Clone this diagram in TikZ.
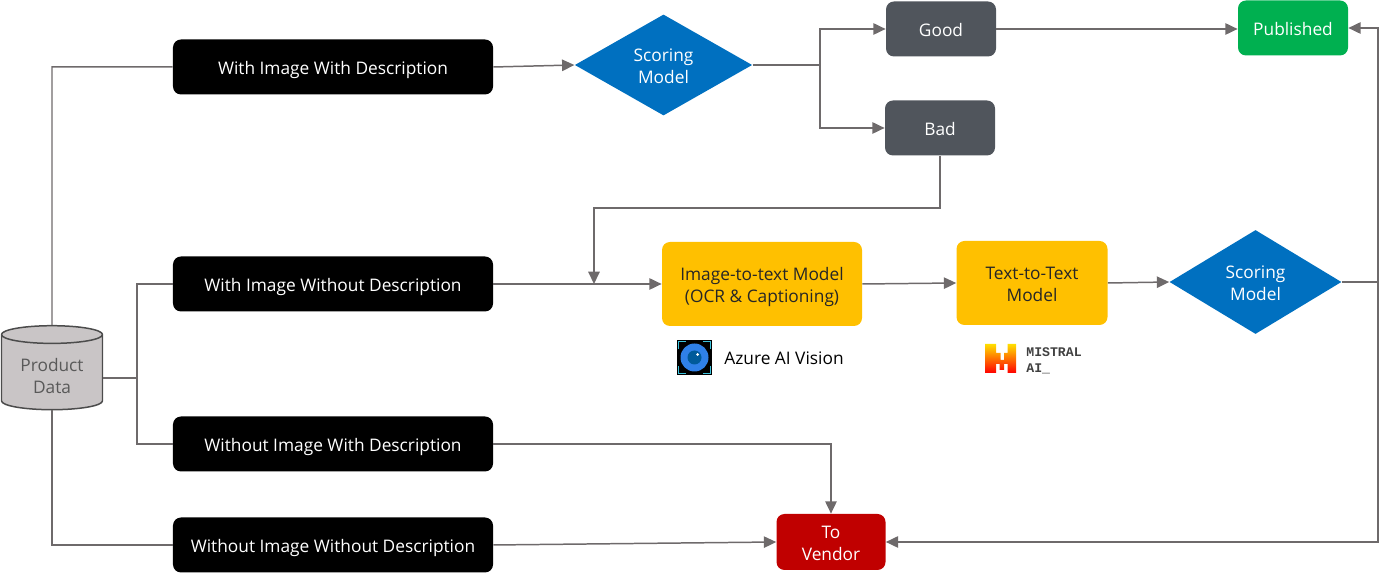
\documentclass[tikz,border=0pt]{standalone}
\usepackage{fontspec}
\setmainfont{Open Sans}
\newfontfamily\monolabel{Liberation Mono}
\usetikzlibrary{arrows.meta,shapes.geometric}
\definecolor{linegray}{HTML}{6E6A6B}
\definecolor{boxgray}{HTML}{50555C}
\definecolor{cylgray}{HTML}{C9C5C6}
\definecolor{modelblue}{HTML}{0070C0}
\definecolor{modelyellow}{HTML}{FFC000}
\definecolor{pubgreen}{HTML}{00B050}
\definecolor{vendorred}{HTML}{C00000}
\definecolor{lenscyan}{HTML}{3CC3DC}
\definecolor{lensblue}{HTML}{2F80E8}
\begin{document}
\begin{tikzpicture}[scale=0.2]
\tikzstyle{every node}+=[inner sep=0pt,font=\fontsize{9.85}{12.5}\selectfont,align=center]
\tikzstyle{oneline}=[text height=8pt,text depth=0pt]
\tikzstyle{twoline}=[text height=20.5pt,text depth=0pt]
\tikzstyle{box}=[rectangle,rounded corners=0.16cm,text=white]
\tikzstyle{casebox}=[box,oneline,fill=black,minimum width=6.4cm,minimum height=1.1cm]
\tikzstyle{gradebox}=[box,oneline,fill=boxgray,minimum width=2.2cm,minimum height=1.1cm]
\tikzstyle{modelbox}=[box,twoline,fill=modelyellow,text=black!85,minimum height=1.68cm]
\tikzstyle{scorebox}=[diamond,twoline,fill=modelblue,text=white,minimum width=3.55cm,minimum height=2.02cm]
\tikzstyle{line}=[draw=linegray,line width=0.85pt]
\tikzstyle{arrow}=[line,-{Triangle[length=7pt,width=6.5pt]}]
\useasboundingbox (0,0) rectangle (138.4,-58);
% product data
\node [cylinder,text height=24pt,text depth=0pt,shape border rotate=90,shape aspect=0.28,draw=black!70,line width=0.85pt,fill=cylgray,text=black!65,minimum width=2.02cm,minimum height=1.68cm] (db) at (5.2,-37.25) {Product\\Data};
% cases
\node [casebox] (wiwd) at (33.3,-6.7) {With Image With Description};
\node [casebox] (wiwod) at (33.3,-28.4) {With Image Without Description};
\node [casebox] (woiwd) at (33.3,-44.4) {Without Image With Description};
\node [casebox] (wowod) at (33.3,-54.5) {Without Image Without Description};
% models
\node [scorebox] (score1) at (66.35,-6.5) {Scoring\\Model};
\node [gradebox] (good) at (94.1,-2.9) {Good};
\node [gradebox] (bad) at (94,-12.8) {Bad};
\node [box,oneline,fill=pubgreen,minimum width=2.2cm,minimum height=1.1cm] (pub) at (129.3,-2.8) {Published};
\node [modelbox,minimum width=4cm] (imgtxt) at (76.2,-28.4) {Image-to-text Model\\(OCR \& Captioning)};
\node [modelbox,minimum width=3.02cm] (txttxt) at (103.2,-28.3) {Text-to-Text\\Model};
\node [scorebox,minimum width=3.44cm,minimum height=2.08cm] (score2) at (125.55,-28.2) {Scoring\\Model};
\node [box,twoline,fill=vendorred,minimum width=2.18cm,minimum height=1.12cm] (vendor) at (83.1,-54.2) {To\\Vendor};
% logos
\node [anchor=west,oneline] (azure) at (72.4,-35.7) {Azure AI Vision};
\fill [black] (67.7,-34) rectangle (71.2,-37.5);
\fill [lensblue] (69.45,-35.75) circle (1.4);
\fill [modelblue!80!black] (69.45,-35.75) circle (0.7);
\fill [white] (69.75,-35.45) circle (0.15);
\draw [lenscyan,line width=1.1pt] (67.85,-34.9) -- (67.85,-34.15) -- (68.6,-34.15) (70.3,-34.15) -- (71.05,-34.15) -- (71.05,-34.9) (71.05,-36.6) -- (71.05,-37.35) -- (70.3,-37.35) (68.6,-37.35) -- (67.85,-37.35) -- (67.85,-36.6);
\shade [top color=yellow!75!orange,middle color=orange,bottom color=red] (98.5,-34.4) -- (99.6,-34.4) -- (99.6,-35.3) -- (100.05,-35.3) -- (100.05,-36) -- (100.4,-36) -- (100.4,-35.3) -- (100.75,-35.3) -- (100.75,-34.4) -- (101.6,-34.4) -- (101.6,-37.3) -- (100.75,-37.3) -- (100.75,-36.4) -- (100.4,-36.4) -- (100.4,-37) -- (99.95,-37) -- (99.95,-36.4) -- (99.6,-36.4) -- (99.6,-37.3) -- (98.5,-37.3) -- cycle;
\node [anchor=west,font=\monolabel\bfseries\fontsize{7.5}{9}\selectfont,align=left,text=black!75] (mistral) at (102.6,-36.1) {MISTRAL\\AI\_};
% connectors
\coordinate (split) at (13.7,-37.8);
\coordinate (up1) at (5.2,-6.7);
\coordinate (dn1) at (5.2,-54.5);
\draw [line] (db.north) -- (up1) -- (wiwd.west);
\draw [line] (db.south) -- (dn1) -- (wowod.west);
\draw [line] (db.east |- split) -- (split);
\draw [line] (wiwod.west) -- (wiwod.west -| split) -- (split) -- (split |- woiwd.west) -- (woiwd.west);
\draw [arrow] (wiwd.east) -- (score1.west);
\coordinate (fork) at (82,-6.5);
\draw [line] (score1.east) -- (fork);
\draw [arrow] (fork) -- (fork |- good.west) -- (good.west);
\draw [arrow] (fork) -- (fork |- bad.west) -- (bad.west);
\draw [arrow] (good.east) -- (pub.west |- good.east);
\coordinate (back) at (94,-20.8);
\coordinate (back2) at (59.4,-20.8);
\draw [arrow] (bad.south) -- (back) -- (back2) -- (back2 |- wiwod.east);
\draw [arrow] (wiwod.east) -- (imgtxt.west);
\draw [arrow] (imgtxt.east) -- (txttxt.west);
\draw [arrow] (txttxt.east) -- (score2.west);
\coordinate (rail) at (137.8,-28.2);
\draw [line] (score2.east) -- (rail);
\draw [arrow] (rail) -- (rail |- pub.east) -- (pub.east);
\draw [arrow] (rail) -- (rail |- vendor.east) -- (vendor.east);
\draw [arrow] (woiwd.east) -- (vendor.north |- woiwd.east) -- (vendor.north);
\draw [arrow] (wowod.east) -- (vendor.west);
\end{tikzpicture}
\end{document}
